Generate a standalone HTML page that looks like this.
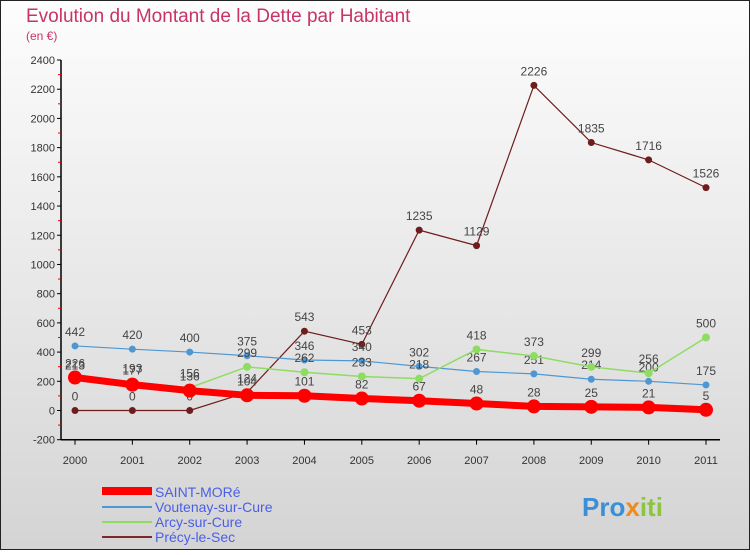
<!DOCTYPE html>
<html><head><meta charset="utf-8"><style>
body{margin:0;width:750px;height:550px;overflow:hidden;font-family:"Liberation Sans",sans-serif}
</style></head><body>
<svg width="750" height="550" xmlns="http://www.w3.org/2000/svg">
<defs><linearGradient id="bg" x1="0" y1="0" x2="0" y2="1"><stop offset="0" stop-color="#fdfdfd"/><stop offset="1" stop-color="#d4d4d4"/></linearGradient></defs>
<rect x="0.5" y="0.5" width="749" height="549" fill="url(#bg)" stroke="#222"/>
<text x="26" y="22" font-size="19" fill="#c8336a">Evolution du Montant de la Dette par Habitant</text>
<text x="26" y="40" font-size="12" fill="#c8336a">(en €)</text>
<g id="axes"></g><g id="series"></g>
<g>
<rect x="102" y="487" width="50" height="8" fill="#f00"/>
<text x="155" y="497" font-size="14" fill="#4a5ee8">SAINT-MORé</text>
<line x1="102" y1="507" x2="152" y2="507" stroke="#4f97d3" stroke-width="2"/>
<text x="155" y="512" font-size="14" fill="#4a5ee8">Voutenay-sur-Cure</text>
<line x1="102" y1="522" x2="152" y2="522" stroke="#8fdc63" stroke-width="2"/>
<text x="155" y="527" font-size="14" fill="#4a5ee8">Arcy-sur-Cure</text>
<line x1="102" y1="537" x2="152" y2="537" stroke="#7a2a2a" stroke-width="2"/>
<text x="155" y="542" font-size="14" fill="#4a5ee8">Précy-le-Sec</text>
</g>
<text x="582" y="516" font-size="26" font-weight="bold" fill="#3a8fd8">Pro<tspan fill="#f08a1c">x</tspan><tspan fill="#8cc63f">iti</tspan></text>
</svg>
<script>
const years=[2000,2001,2002,2003,2004,2005,2006,2007,2008,2009,2010,2011];
const saintMore=[226,177,136,104,101,82,67,48,28,25,21,5];
const voutenay=[442,420,400,375,346,340,302,267,251,214,200,175];
const arcy=[213,193,156,299,262,233,218,418,373,299,256,500];
const precy=[0,0,0,124,543,453,1235,1129,2226,1835,1716,1526];
const yTicks=[-200,0,200,400,600,800,1000,1200,1400,1600,1800,2000,2200,2400];
const NS="http://www.w3.org/2000/svg";
const X=i=>75+i*(706-75)/(years.length-1);
const Y=v=>410.5-v*(410.5-60)/2400;
function mk(t,a,p){const e=document.createElementNS(NS,t);for(const k in a)e.setAttribute(k,a[k]);p.appendChild(e);return e;}
const ax=document.getElementById('axes');
const yAxis=mk('line',{x1:61,y1:Y(2400),x2:61,y2:Y(-200),stroke:'#000','stroke-width':1.5},ax);


const xAxis=mk('line',{x1:61,y1:Y(-200),x2:720,y2:Y(-200),stroke:'#000','stroke-width':1.5},ax);


yTicks.forEach(v=>{
 mk('line',{x1:57,y1:Y(v),x2:61,y2:Y(v),stroke:'#000'},ax);
 if(v<2400)mk('line',{x1:58,y1:Y(v+100),x2:61,y2:Y(v+100),stroke:'#e00'},ax);
 const t=mk('text',{x:55,y:Y(v)+4,'font-size':11,fill:'#333','text-anchor':'end'},ax);t.textContent=v;
 
 
});
years.forEach((y,i)=>{
 mk('line',{x1:X(i),y1:Y(-200),x2:X(i),y2:Y(-200)+5,stroke:'#000'},ax);
 const t=mk('text',{x:X(i),y:464,'font-size':11,fill:'#333','text-anchor':'middle'},ax);t.textContent=y;
 
 
});
const sg=document.getElementById('series');
function series(data,color,w,r,name){
 const g=mk('g',{},sg);
 
 
 mk('polyline',{points:data.map((v,i)=>X(i)+','+Y(v)).join(' '),fill:'none',stroke:color,'stroke-width':w},g);
 data.forEach((v,i)=>{
  const c=mk('circle',{cx:X(i),cy:Y(v),r:r,fill:color},g);
  
  
  const t=mk('text',{x:X(i),y:Y(v)-10,'font-size':12,fill:'#444','text-anchor':'middle'},g);t.textContent=v;
 });
}
series(precy,'#6e1c1c',1.2,3.5,'series-precy');
series(voutenay,'#4f97d3',1.2,3.5,'series-voutenay');
series(arcy,'#8fdc63',1.5,4,'series-arcy');
series(saintMore,'#f00',7,7,'series-saint-more');
</script>
</body></html>
